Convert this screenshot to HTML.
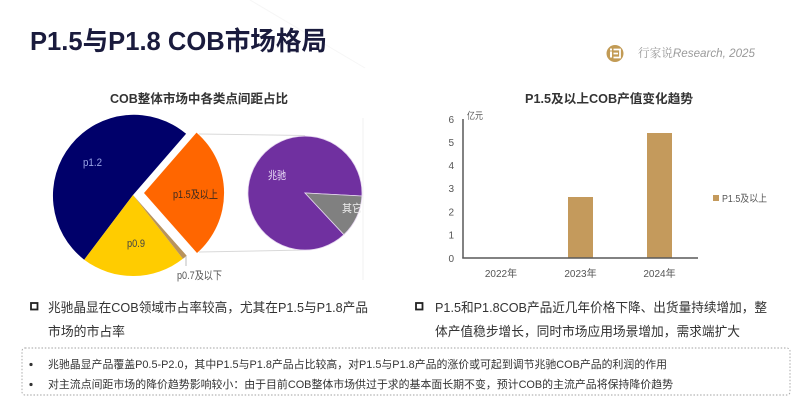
<!DOCTYPE html>
<html><head><meta charset="utf-8"><style>
html,body{margin:0;padding:0;background:#fff;}
svg{display:block;}
text{font-family:"Liberation Sans","Noto Sans CJK SC",sans-serif;}
</style></head><body>
<svg width="800" height="400" viewBox="0 0 800 400" xmlns="http://www.w3.org/2000/svg">
<rect width="800" height="400" fill="#fff"/>
<!-- faint decorations -->
<line x1="363" y1="118" x2="363" y2="280" stroke="#f0f0f0" stroke-width="1"/>
<line x1="250" y1="0" x2="365" y2="68" stroke="#f6f6f6" stroke-width="1"/>

<!-- Title -->
<text x="30" y="50" font-size="26" font-weight="bold" fill="#1a1b3d" textLength="297" lengthAdjust="spacingAndGlyphs">P1.5与P1.8 COB市场格局</text>

<!-- logo -->
<circle cx="615" cy="53.5" r="8.5" fill="#c29b55"/>
<rect x="610" y="48.5" width="2" height="2" fill="#fff"/>
<rect x="610" y="51.5" width="2" height="6" fill="#fff"/>
<path d="M613.5 49.5 H620 V57.5 H613.5 M613.5 53.5 H618" fill="none" stroke="#fff" stroke-width="1.8"/>
<text x="638" y="57" font-size="12" fill="#9a9a9a" textLength="117" lengthAdjust="spacingAndGlyphs"><tspan font-family="'Noto Serif CJK SC',serif">行家说</tspan><tspan font-style="italic">Research, 2025</tspan></text>

<!-- chart subtitles -->
<text x="110" y="103" font-size="12.5" font-weight="bold" fill="#333" textLength="178" lengthAdjust="spacingAndGlyphs">COB整体市场中各类点间距占比</text>
<text x="525" y="103" font-size="12.5" font-weight="bold" fill="#333" textLength="168" lengthAdjust="spacingAndGlyphs">P1.5及以上COB产值变化趋势</text>

<!-- connectors -->
<line x1="199" y1="134" x2="305" y2="135.5" stroke="#d9d9d9" stroke-width="1"/>
<line x1="199" y1="252" x2="305" y2="250" stroke="#d9d9d9" stroke-width="1"/>

<!-- main pie -->
<path d="M133 195 L186.1 133.8 A81 81 0 1 0 84.2 259.7 Z" fill="#00006a"/>
<path d="M133 195 L84.2 259.7 A81 81 0 0 0 182.9 258.8 Z" fill="#ffcc00"/>
<path d="M133 195 L182.9 258.8 A81 81 0 0 0 186.7 255.7 Z" fill="#b8935c"/>
<path d="M144 193 L197 253 A80 80 0 0 0 196.5 132.6 Z" fill="#ff6600"/>
<line x1="186" y1="256" x2="186" y2="266" stroke="#bdbdbd" stroke-width="1"/>

<!-- secondary pie -->
<defs><clipPath id="cp"><rect x="230" y="120" width="133" height="150"/></clipPath></defs>
<g clip-path="url(#cp)">
<path d="M305 193 L361.9 196 A57 57 0 1 0 343.9 234.7 Z" fill="#7030a0" stroke="#e6d6f0" stroke-width="0.8"/>
<path d="M305 193 L343.9 234.7 A57 57 0 0 0 361.9 196 Z" fill="#808080" stroke="#e6d6f0" stroke-width="0.8"/>
</g>

<!-- pie labels -->
<text x="83" y="166" font-size="11" fill="#9aa4e6" textLength="19" lengthAdjust="spacingAndGlyphs">p1.2</text>
<text x="173" y="198" font-size="11" fill="#3a2a20" textLength="45" lengthAdjust="spacingAndGlyphs">p1.5及以上</text>
<text x="127" y="247" font-size="11" fill="#444" textLength="18" lengthAdjust="spacingAndGlyphs">p0.9</text>
<text x="177" y="279" font-size="11" fill="#555" textLength="45" lengthAdjust="spacingAndGlyphs">p0.7及以下</text>
<text x="268" y="179" font-size="11" fill="#eadcf6" textLength="18" lengthAdjust="spacingAndGlyphs">兆驰</text>
<text x="342" y="212" font-size="11" fill="#eeeeee" textLength="20" lengthAdjust="spacingAndGlyphs">其它</text>

<!-- bar chart -->
<rect x="568" y="197" width="25" height="61" fill="#c49a5c"/>
<rect x="647" y="133" width="25" height="125" fill="#c49a5c"/>
<line x1="463" y1="119" x2="463" y2="258.5" stroke="#595959" stroke-width="1.5"/>
<line x1="462.3" y1="258" x2="698" y2="258" stroke="#595959" stroke-width="1.5"/>
<g font-size="10" fill="#555" text-anchor="end">
<text x="454" y="123">6</text>
<text x="454" y="146">5</text>
<text x="454" y="169">4</text>
<text x="454" y="192">3</text>
<text x="454" y="215.5">2</text>
<text x="454" y="238.5">1</text>
<text x="454" y="262">0</text>
</g>
<text x="467" y="119" font-size="9.5" fill="#555" textLength="16" lengthAdjust="spacingAndGlyphs">亿元</text>
<g font-size="10" fill="#555" text-anchor="middle">
<text x="501" y="277">2022年</text>
<text x="580.5" y="277">2023年</text>
<text x="659.5" y="277">2024年</text>
</g>
<rect x="713" y="195" width="6" height="6" fill="#c49a5c"/>
<text x="722" y="202" font-size="10" fill="#555" textLength="45" lengthAdjust="spacingAndGlyphs">P1.5及以上</text>

<!-- bullets -->
<rect x="31" y="303" width="6.5" height="6.5" fill="none" stroke="#222" stroke-width="1.8"/>
<text x="48" y="312" font-size="13.3" fill="#333" textLength="320" lengthAdjust="spacingAndGlyphs">兆驰晶显在COB领域市占率较高，尤其在P1.5与P1.8产品</text>
<text x="48" y="336" font-size="13.3" fill="#333" textLength="77" lengthAdjust="spacingAndGlyphs">市场的市占率</text>

<rect x="416" y="303" width="6.5" height="6.5" fill="none" stroke="#222" stroke-width="1.8"/>
<text x="435" y="312" font-size="13.3" fill="#333" textLength="332" lengthAdjust="spacingAndGlyphs">P1.5和P1.8COB产品近几年价格下降、出货量持续增加，整</text>
<text x="435" y="336" font-size="13.3" fill="#333" textLength="305" lengthAdjust="spacingAndGlyphs">体产值稳步增长，同时市场应用场景增加，需求端扩大</text>

<!-- dotted box -->
<rect x="22" y="348" width="768" height="47" rx="3" fill="none" stroke="#a0a0a0" stroke-width="0.9" stroke-dasharray="1.5 1.8"/>
<circle cx="31" cy="364.5" r="1.6" fill="#333"/>
<circle cx="31" cy="384.5" r="1.6" fill="#333"/>
<text x="48" y="368" font-size="11" fill="#333" textLength="619" lengthAdjust="spacingAndGlyphs">兆驰晶显产品覆盖P0.5-P2.0，其中P1.5与P1.8产品占比较高，对P1.5与P1.8产品的涨价或可起到调节兆驰COB产品的利润的作用</text>
<text x="48" y="388" font-size="11" fill="#333" textLength="625" lengthAdjust="spacingAndGlyphs">对主流点间距市场的降价趋势影响较小：由于目前COB整体市场供过于求的基本面长期不变，预计COB的主流产品将保持降价趋势</text>
</svg>
</body></html>
